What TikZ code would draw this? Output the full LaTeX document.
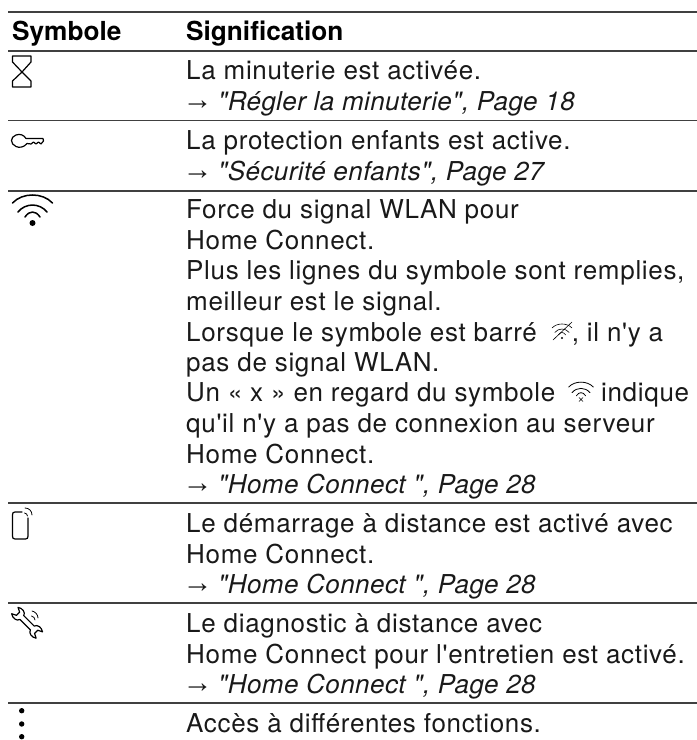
\documentclass[tikz,border=0pt]{standalone}
\usepackage{fontspec}
\setmainfont{TeX Gyre Heros}[LetterSpace=2.6,Ligatures=TeXOff,ItalicFeatures={LetterSpace=1.7}]
\newfontfamily\headfont{TeX Gyre Heros}[Ligatures=TeXOff]
\newfontfamily\arrowfont{Liberation Sans}
\newcommand{\Pg}[1]{\makebox[32pt][l]{\hspace{-3.5pt}\raisebox{1pt}{\arrowfont\fontsize{30}{30}\selectfont →}}\textit{#1}}
\definecolor{ink}{gray}{0.1}
\tikzset{
  rowtext/.style={anchor=base west,inner sep=0pt,text=ink,font=\fontsize{26}{26}\selectfont},
  headtext/.style={anchor=base west,inner sep=0pt,font=\headfont\fontsize{26.2}{26.2}\selectfont\bfseries},
  rule/.style={line width=1.3pt,black!75},
  icon/.style={line width=1.2pt,black,line join=round,line cap=round},
  thinicon/.style={line width=.8pt,black,line cap=round}
}
\newcommand{\wifiarcs}[4]{% x, y of the dot, scale, line width
  \begin{scope}[shift={(#1,#2)},scale=#3]
    \draw[icon,line width=#4] (-7.5,-6) .. controls (-3,-12.7) and (3,-12.7) .. (7.5,-6);
    \draw[icon,line width=#4] (-14.5,-11) .. controls (-7,-20.3) and (7,-20.3) .. (14.5,-11);
    \draw[icon,line width=#4] (-20,-20) .. controls (-10,-30.7) and (10,-30.7) .. (20,-20);
  \end{scope}}
\begin{document}
\begin{tikzpicture}[x=1pt,y=-1pt]
\useasboundingbox (0,0) rectangle (697,740);
\foreach \y in {12,51,120.5,191,503,603,703}{\draw[rule] (8,\y) -- (697,\y);}
\node[headtext] (h1) at (12,40) {Symbole};
\node[headtext] (h2) at (186,40) {Signification};
\foreach \nm/\y/\t in {
 a/79/{La minuterie est activée.},
 b/110/{\Pg{"Régler la minuterie", Page 18}},
 c/149/{La protection enfants est active.},
 d/180/{\Pg{"Sécurité enfants", Page 27}},
 e/218/{Force du signal WLAN pour},
 f/249/{Home Connect.},
 g/279/{Plus les lignes du symbole sont remplies,},
 h/310/{meilleur est le signal.},
 j/341/{Lorsque le symbole est barré \hspace{27pt}, il n'y a},
 k/371/{pas de signal WLAN.},
 l/401/{Un « x » en regard du symbole \hspace{30pt} indique},
 m/432/{qu'il n'y a pas de connexion au serveur},
 n/463/{Home Connect.},
 o/493/{\Pg{"Home Connect ", Page 28}},
 p/532/{Le démarrage à distance est activé avec},
 q/563/{Home Connect.},
 r/593/{\Pg{"Home Connect ", Page 28}},
 s/632/{Le diagnostic à distance avec},
 t/663/{Home Connect pour l'entretien est activé.},
 u/693/{\Pg{"Home Connect ", Page 28}},
 v/732/{Accès à différentes fonctions.}}{
  \node[rowtext] (\nm) at (186,\y) {\t};
}
% hourglass
\draw[icon] (12.5,56) -- (31,56) -- (31,62) -- (22,72) -- (31,81) -- (31,87) -- (12.5,87) -- (12.5,81) -- (22,72) -- (12.5,62) -- cycle;
% key
\draw[icon] (26,138.5) -- (43,138.5) -- (43.5,141) -- (41,144) -- (38.5,142) -- (36,144) -- (33.5,142) -- (31,144) -- (27,143.5)
  .. controls (24,147.5) and (19,148) .. (16,146.5)
  .. controls (10,144) and (10,137) .. (16,135)
  .. controls (20,133.5) and (24,135) .. (26,138.5) -- cycle;
% wifi
\wifiarcs{32.5}{223}{1}{1.5pt}
\fill (32.5,223) circle (3);
% struck wifi
\wifiarcs{562}{338}{0.5}{.6pt}
\fill (562,338) circle (1.2);
\draw[thinicon,line width=.6pt] (553,340) -- (572,322);
% wifi with x
\wifiarcs{581}{399.5}{0.62}{.8pt}
\draw[thinicon,line width=.6pt] (579,397.5) -- (583,401.5) (583,397.5) -- (579,401.5);
% remote phone
\draw[icon] (22,512) -- (15,512) .. controls (13,512) and (12.5,513) .. (12.5,515) -- (12.5,536) .. controls (12.5,538) and (13,539) .. (15,539) -- (25.5,539) .. controls (27.5,539) and (28,538) .. (28,536) -- (28,518);
\draw[thinicon] (24.5,513) .. controls (26,513) and (27.5,514.5) .. (27.5,516);
\draw[thinicon] (25,508) .. controls (29,508) and (32,511) .. (32,515);
% wrench
\begin{scope}[shift={(18.3,614)},rotate=-45,scale=.9]
  \draw[icon] (5.6,-3) -- (22,-3) .. controls (23,-7) and (29,-8) .. (33,-5) -- (28,-2.5) -- (28,2.5) -- (33,5)
    .. controls (29,8) and (23,7) .. (22,3) -- (5.6,3)
    .. controls (4.6,7) and (-1.4,8) .. (-5.4,5) -- (-.4,2.5) -- (-.4,-2.5) -- (-5.4,-5)
    .. controls (-1.4,-8) and (4.6,-7) .. (5.6,-3) -- cycle;
\end{scope}
\draw[thinicon] (31.5,616) .. controls (33.5,616.5) and (35,618) .. (35,620);
\draw[thinicon] (32,611) .. controls (35,611.5) and (38,614.5) .. (38,618);
% dots
\foreach \y in {710.7,724,736.7}{\fill (21.7,\y) circle (2.7);}
\end{tikzpicture}
\end{document}
